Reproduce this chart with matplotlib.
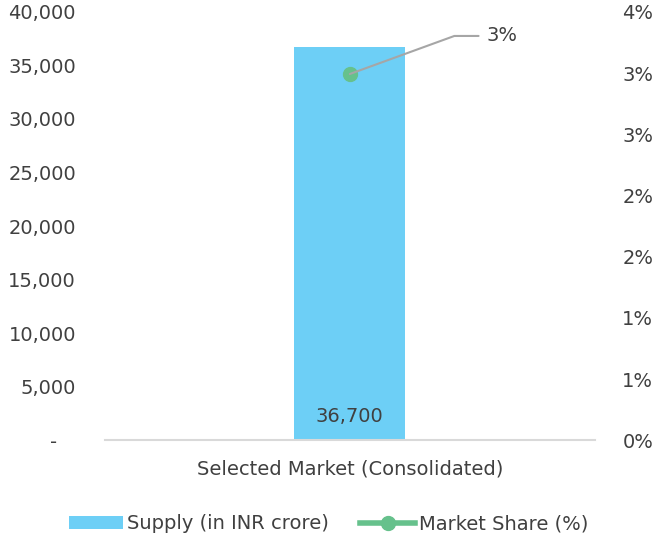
import matplotlib.pyplot as plt
from matplotlib.ticker import FuncFormatter, FixedLocator
import numpy as np

categories = ["Selected Market (Consolidated)"]
supply = [36700]
share = [3.42]
share_labels = ["3%"]

plt.rcParams['font.family'] = ['DejaVu Sans']
txt = '#404040'

fig, ax = plt.subplots(figsize=(6.57, 5.39), dpi=100)
fig.subplots_adjust(left=0.16, right=0.905, top=0.978, bottom=0.183)
ax2 = ax.twinx()

x = np.arange(len(categories))
bars = ax.bar(x, supply, width=0.227, color='#6DCFF6', zorder=2, label='Supply (in INR crore)')
line, = ax2.plot(x, share, color='#66C18C', marker='o', markersize=10, lw=4,
                 label='Market Share (%)', zorder=3)

ax.set_xlim(-0.5, 0.5)
ax.set_ylim(0, 40000)
ax.set_yticks(np.arange(0, 40001, 5000))
ax.yaxis.set_major_formatter(FuncFormatter(lambda v, p: '-   ' if v == 0 else f'{v:,.0f}'))
ax2.set_ylim(0, 4)
ax2.yaxis.set_major_locator(FixedLocator(np.linspace(0, 4, 8)))
ax2.yaxis.set_major_formatter(FuncFormatter(lambda v, p: f'{v:.0f}%'))

ax.set_xticks(x)
ax.set_xticklabels(categories)

for a in (ax, ax2):
    for s in a.spines.values():
        s.set_visible(False)
    a.tick_params(length=0, labelsize=14, labelcolor=txt)
ax.spines['bottom'].set_visible(True)
ax.spines['bottom'].set_color('#D9D9D9')
ax.spines['bottom'].set_linewidth(1.5)
ax.tick_params(axis='x', pad=14)
ax.tick_params(axis='y', pad=21)
ax2.tick_params(axis='y', pad=20)

for i, v in enumerate(supply):
    ax.text(x[i], 1300, f'{v:,}', ha='center', va='bottom', fontsize=14, color=txt, zorder=4)

for i, v in enumerate(share):
    ax2.annotate(share_labels[i], xy=(x[i], v), xytext=(x[i] + 0.28, v + 0.355),
                 fontsize=14, color=txt, va='center', ha='left',
                 arrowprops=dict(arrowstyle='-', color='#A6A6A6', lw=1.5,
                                 connectionstyle='angle,angleA=0,angleB=20,rad=0',
                                 shrinkA=4, shrinkB=0))

fig.legend(handles=[bars, line], loc='lower center', ncol=2, frameon=False,
           fontsize=14, labelcolor=txt, bbox_to_anchor=(0.5, -0.022),
           handlelength=2.8, handletextpad=0.2, columnspacing=1.6)

fig.savefig('out.png')
